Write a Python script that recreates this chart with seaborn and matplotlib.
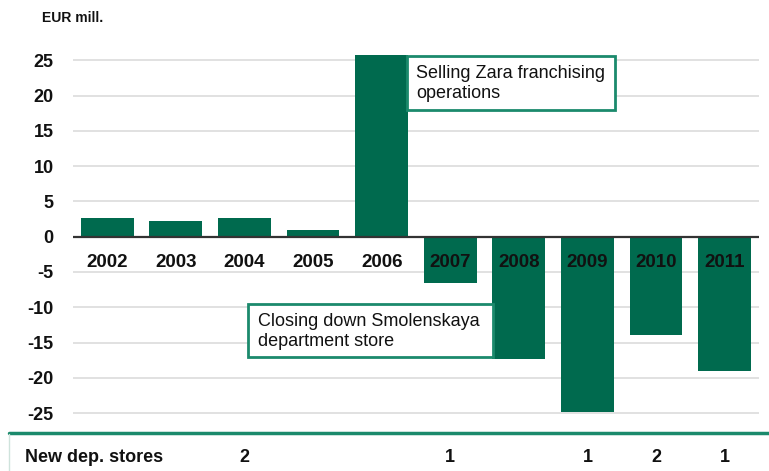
import matplotlib
matplotlib.use("Agg")
import matplotlib.pyplot as plt
from matplotlib.patches import Rectangle
from matplotlib.lines import Line2D
from matplotlib.transforms import blended_transform_factory
import seaborn as sns
import pandas as pd

# Annual result, EUR million
years = ["2002", "2003", "2004", "2005", "2006",
         "2007", "2008", "2009", "2010", "2011"]
result = [2.7, 2.2, 2.7, 1.0, 25.8, -6.6, -17.3, -24.9, -14.0, -19.0]
# New department stores opened per year (blank where none)
new_stores = ["", "", "2", "", "", "1", "", "1", "2", "1"]
y_ticks = [-25, -20, -15, -10, -5, 0, 5, 10, 15, 20, 25]

unit_label = "EUR mill."
store_row_label = "New dep. stores"
note_zara = "Selling Zara franchising\noperations"
note_smolenskaya = "Closing down Smolenskaya\ndepartment store"

BAR = "#006a4e"
TEAL = "#1b8a6c"
GRID = "#d9d9d9"

sns.set_theme(style="white")
plt.rcParams["font.family"] = ["Liberation Sans", "DejaVu Sans"]

df = pd.DataFrame({"year": years, "result": result})

fig = plt.figure(figsize=(7.69, 4.71), dpi=100)
ax = fig.add_axes([0.0949, 0.093, 0.892, 0.809])

sns.barplot(data=df, x="year", y="result", order=years, color=BAR,
            saturation=1, width=0.77, linewidth=0, ax=ax, zorder=3)

ax.set_xlim(-0.5, len(years) - 0.5)
ax.set_ylim(-27, 27)
ax.set_yticks(y_ticks)
ax.set_yticklabels([str(v) for v in y_ticks], fontsize=13,
                   fontweight="bold", color="#111111")
ax.tick_params(axis="y", length=0, pad=14)
ax.set_xticks([])
ax.set_xlabel("")
ax.set_ylabel("")
for s in ax.spines.values():
    s.set_visible(False)

for v in y_ticks:
    if v != 0:
        ax.axhline(v, color=GRID, lw=1.1, zorder=1)
ax.axhline(0, color="#333333", lw=1.6, zorder=4)

# Year labels sit just under the zero line
for i, yr in enumerate(years):
    ax.text(i, -3.6, yr, ha="center", va="center", fontsize=13.5,
            fontweight="bold", color="#111111", zorder=5)

# Annotation boxes
ax.add_patch(Rectangle((4.37, 17.95), 3.03, 7.65, facecolor="white",
                       edgecolor=TEAL, lw=2, zorder=6))
ax.text(4.5, 21.7, note_zara, ha="left", va="center", fontsize=13,
        color="#111111", linespacing=1.22, zorder=7)

ax.add_patch(Rectangle((2.05, -17.1), 3.57, 7.55, facecolor="white",
                       edgecolor=TEAL, lw=2, zorder=6))
ax.text(2.2, -13.4, note_smolenskaya, ha="left", va="center", fontsize=13,
        color="#111111", linespacing=1.22, zorder=7)

# Unit caption
fig.text(42 / 769, 1 - 18 / 471, unit_label, ha="left", va="center",
         fontsize=10, fontweight="bold", color="#111111")

# Store count row below the chart
fig.add_artist(Line2D([9 / 769, 1.0], [1 - 433 / 471] * 2, color=TEAL,
                      lw=2.5, transform=fig.transFigure))
fig.add_artist(Line2D([9 / 769] * 2, [1 - 434 / 471, 0], color="#cfe3dc",
                      lw=1, transform=fig.transFigure))
fig.text(25 / 769, 1 - 458 / 471, store_row_label, ha="left", va="center",
         fontsize=13, fontweight="bold", color="#111111")
trans = blended_transform_factory(ax.transData, fig.transFigure)
for i, n in enumerate(new_stores):
    if n:
        ax.text(i, 1 - 458 / 471, n, transform=trans, ha="center",
                va="center", fontsize=13, fontweight="bold",
                color="#111111", clip_on=False)

fig.savefig("out.png", dpi=100)
